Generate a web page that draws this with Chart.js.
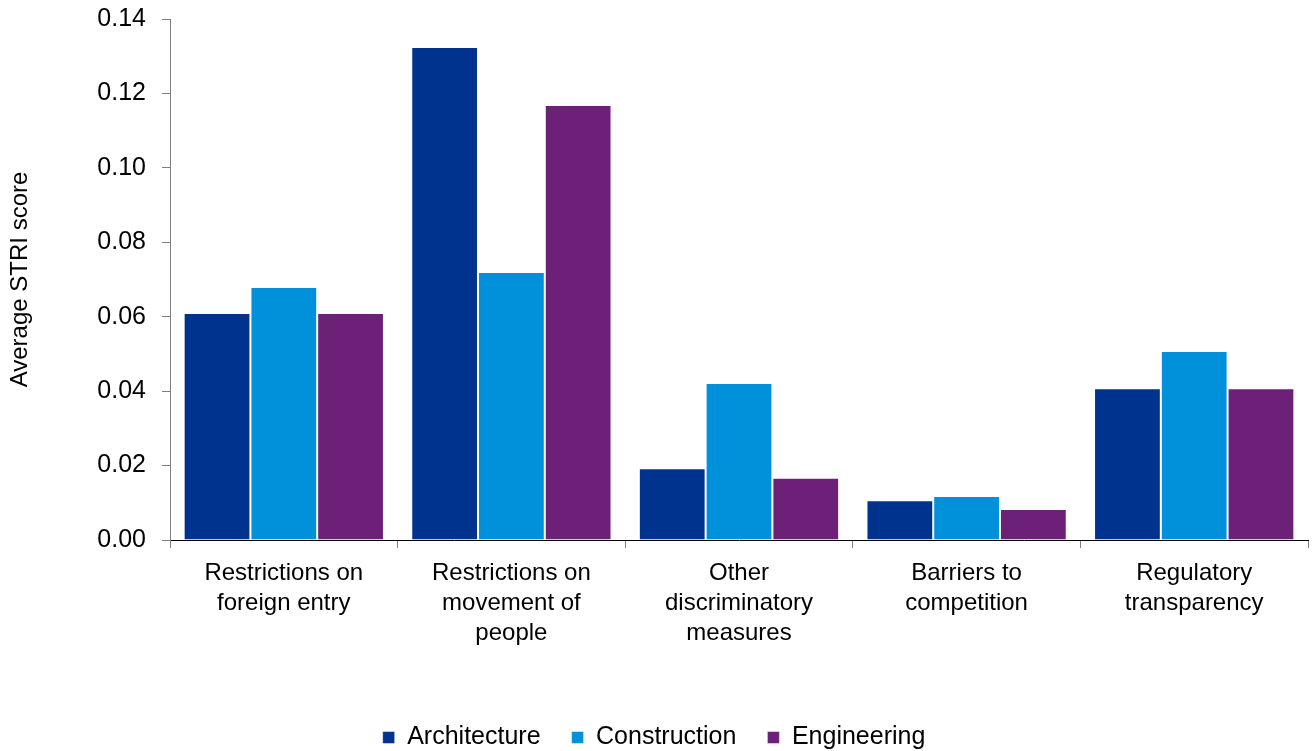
<!DOCTYPE html>
<html>
<head>
<meta charset="utf-8">
<script src="https://cdn.jsdelivr.net/npm/chart.js@4/dist/chart.umd.min.js"></script>
<style>
  html, body { margin: 0; padding: 0; background: #ffffff; }
  #wrap { width: 1312px; height: 751px; position: relative; }
</style>
</head>
<body>
<div id="wrap"><canvas id="c" width="1312" height="751"></canvas></div>
<script>
const categories = [
  ["Restrictions on", "foreign entry"],
  ["Restrictions on", "movement of", "people"],
  ["Other", "discriminatory", "measures"],
  ["Barriers to", "competition"],
  ["Regulatory", "transparency"]
];
const seriesNames = ["Architecture", "Construction", "Engineering"];
const architecture = [0.0610, 0.1325, 0.0193, 0.0107, 0.0408];
const construction = [0.0680, 0.0720, 0.0422, 0.0118, 0.0508];
const engineering  = [0.0610, 0.1169, 0.0167, 0.0083, 0.0408];
const yTicks = [0, 0.02, 0.04, 0.06, 0.08, 0.10, 0.12, 0.14];
const colors = ["#00338D", "#0091DA", "#6D2077"];

const FONT = "'Liberation Sans', Arial, Helvetica, sans-serif";

const legendShift = {
  id: 'legendShift',
  afterLayout(chart) {
    const lg = chart.legend;
    if (lg) { lg.top += 9; lg.bottom += 9; }
  }
};

new Chart(document.getElementById('c'), {
  type: 'bar',
  data: {
    labels: categories,
    datasets: [architecture, construction, engineering].map((d, i) => ({
      label: seriesNames[i],
      data: d,
      backgroundColor: colors[i],
      borderColor: 'rgba(255,255,255,0.45)',
      borderWidth: 1,
      borderSkipped: 'bottom',
      categoryPercentage: 0.88,
      barPercentage: 1.0
    }))
  },
  options: {
    responsive: false,
    animation: false,
    devicePixelRatio: 1,
    layout: { padding: { top: 19, right: 4, left: 0, bottom: 0 } },
    plugins: {
      legend: {
        position: 'bottom',
        labels: {
          color: '#000',
          font: { family: FONT, size: 25 },
          boxWidth: 12,
          boxHeight: 12,
          padding: 31
        }
      },
      tooltip: { enabled: false }
    },
    scales: {
      x: {
        offset: true,
        grid: {
          display: true,
          offset: true,
          drawOnChartArea: false,
          drawTicks: true,
          tickLength: 8,
          color: '#808080'
        },
        border: { display: true, color: '#000', width: 1 },
        ticks: {
          color: '#000',
          font: { family: FONT, size: 24, lineHeight: 1.25 },
          padding: 10,
          maxRotation: 0,
          autoSkip: false
        },
        afterFit(scale) { scale.height = 145; }
      },
      y: {
        min: 0,
        max: 0.14,
        afterBuildTicks(scale) { scale.ticks = yTicks.map(v => ({ value: v })); },
        grid: {
          display: true,
          drawOnChartArea: false,
          drawTicks: true,
          tickLength: 8,
          color: '#808080'
        },
        border: { display: true, color: '#808080', width: 1 },
        ticks: {
          color: '#000',
          font: { family: FONT, size: 25 },
          padding: 16,
          callback: (v) => Number(v).toFixed(2)
        },
        title: {
          display: true,
          text: 'Average STRI score',
          color: '#000',
          font: { family: FONT, size: 24 },
          padding: { top: 6, bottom: 0 }
        },
        afterFit(scale) {
          scale.width = 170;
          scale.paddingTop = 0;
          scale.paddingBottom = 0;
        }
      }
    }
  },
  plugins: [legendShift]
});
</script>
</body>
</html>
